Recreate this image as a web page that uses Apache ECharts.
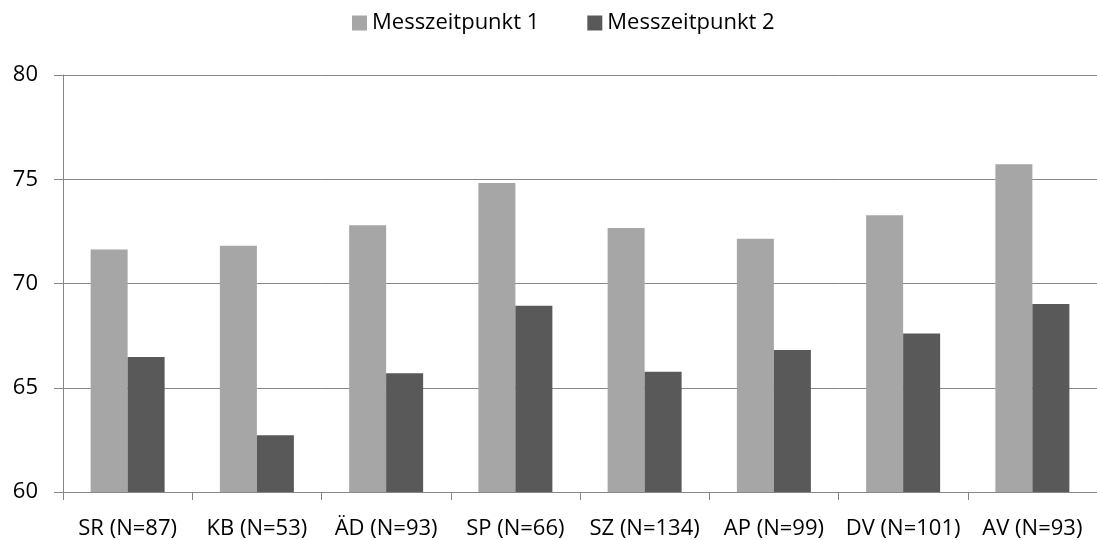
<!DOCTYPE html>
<html>
<head>
<meta charset="utf-8">
<script src="https://cdn.jsdelivr.net/npm/echarts@6/dist/echarts.min.js"></script>
<style>html,body{margin:0;padding:0;background:#fff}#c{width:1097px;height:540px}</style>
</head>
<body>
<div id="c"></div>
<script>
const categories = ['SR (N=87)', 'KB (N=53)', 'ÄD (N=93)', 'SP (N=66)', 'SZ (N=134)', 'AP (N=99)', 'DV (N=101)', 'AV (N=93)'];
const seriesNames = ['Messzeitpunkt 1', 'Messzeitpunkt 2'];
const mzp1 = [71.63, 71.81, 72.79, 74.82, 72.66, 72.15, 73.27, 75.72];
const mzp2 = [66.47, 62.72, 65.70, 68.93, 65.77, 66.81, 67.60, 69.02];

const font = 'Open Sans';
const chart = echarts.init(document.getElementById('c'), null, {renderer: 'canvas'});
chart.setOption({
  animation: false,
  backgroundColor: '#fff',
  textStyle: {fontFamily: font},
  legend: {
    left: 352, top: 12, padding: 0,
    itemWidth: 15, itemHeight: 15, itemGap: 48,
    icon: 'rect',
    textStyle: {fontFamily: font, fontSize: 22, color: '#000'},
    data: seriesNames
  },
  grid: {left: 63, top: 75, width: 1042, height: 417, containLabel: false},
  xAxis: {
    type: 'category',
    data: categories,
    axisLine: {lineStyle: {color: '#868686', width: 1}},
    axisTick: {show: true, length: 8, lineStyle: {color: '#868686'}, alignWithLabel: false},
    axisLabel: {fontFamily: font, fontSize: 22, color: '#000', margin: 26, interval: 0},
    splitLine: {show: false}
  },
  yAxis: {
    type: 'value', min: 60, max: 80, interval: 5,
    axisLine: {show: true, lineStyle: {color: '#868686', width: 1}},
    axisTick: {show: true, length: 9, lineStyle: {color: '#868686'}},
    axisLabel: {fontFamily: font, fontSize: 22, color: '#000', margin: 25},
    splitLine: {show: true, lineStyle: {color: '#868686', width: 1}}
  },
  series: [
    {name: seriesNames[0], type: 'bar', data: mzp1, barWidth: 37, barGap: '0%',
     itemStyle: {color: '#A6A6A6'}},
    {name: seriesNames[1], type: 'bar', data: mzp2, barWidth: 37, barGap: '0%',
     itemStyle: {color: '#595959'}}
  ]
});
</script>
</body>
</html>
